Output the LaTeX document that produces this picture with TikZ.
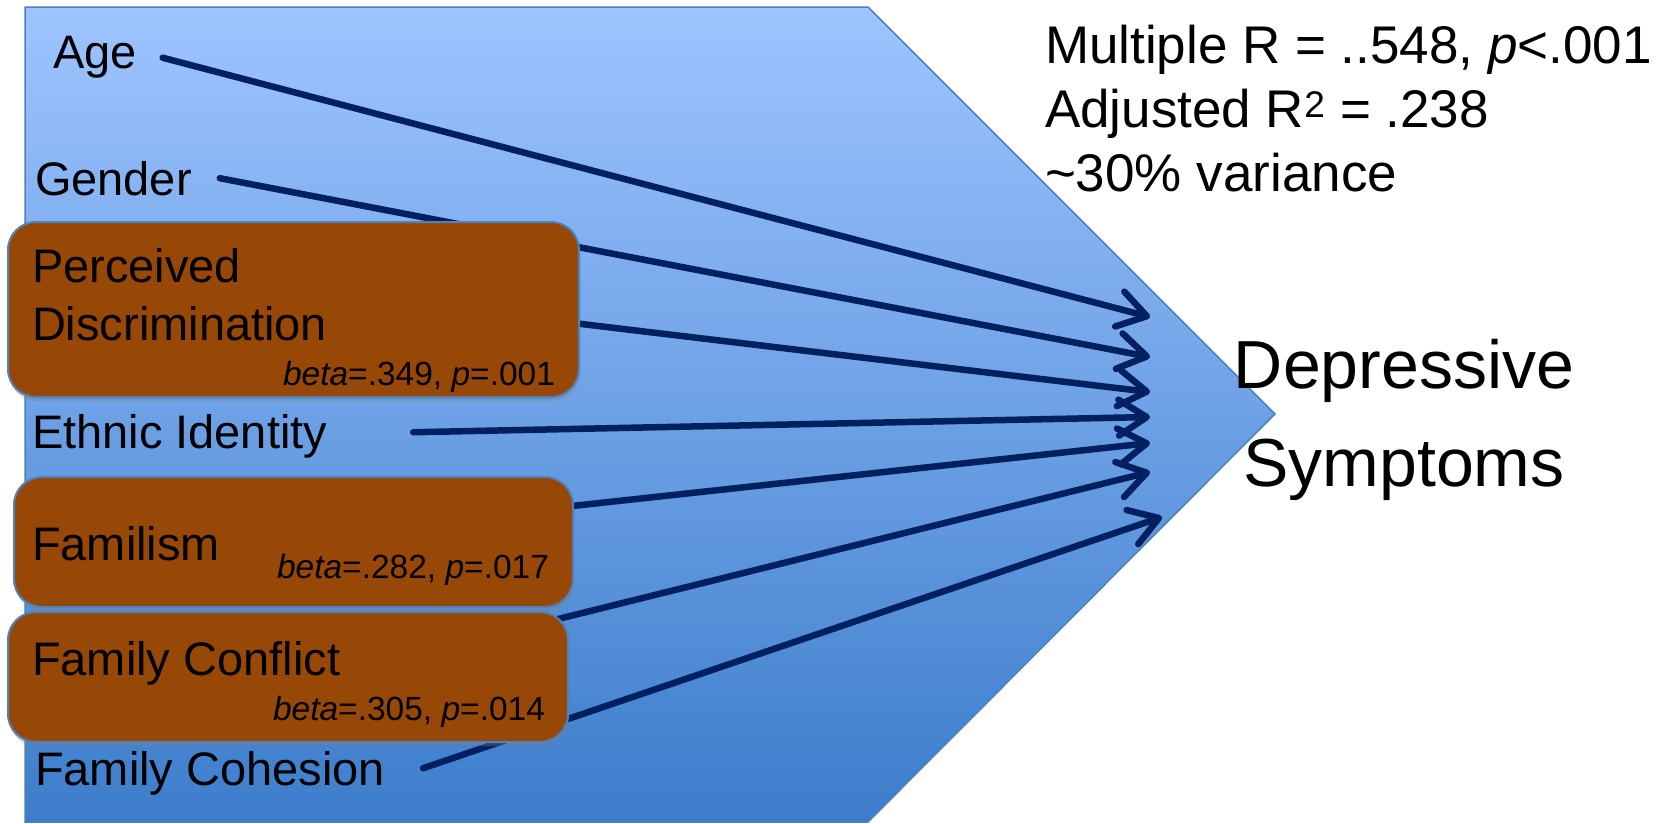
\documentclass[tikz,border=0pt]{standalone}
\usepackage{fontspec}
\setmainfont{Liberation Sans}
\usetikzlibrary{arrows.meta,calc,shadows}
\definecolor{navy}{HTML}{002060}
\definecolor{brownbox}{HTML}{974706}
\definecolor{bluetop}{RGB}{158,196,255}
\definecolor{bluemid}{RGB}{118,163,230}
\definecolor{bluebot}{RGB}{60,125,203}
\definecolor{edgeblue}{RGB}{79,129,189}
\begin{document}
\begin{tikzpicture}[x=1pt,y=-1pt,
  lbl/.style={anchor=base west, inner sep=0pt, outer sep=0pt, font=\fontsize{47}{56}\selectfont},
  betatxt/.style={anchor=base west, inner sep=0pt, outer sep=0pt, font=\fontsize{33.5}{40}\selectfont},
  stat/.style={anchor=base west, inner sep=0pt, outer sep=0pt, font=\fontsize{53}{64}\selectfont},
  dep/.style={anchor=base, inner sep=0pt, outer sep=0pt, font=\fontsize{68}{89}\selectfont},
  box/.style={draw=edgeblue, line width=2pt, fill=brownbox, rounded corners=28pt,
    inner sep=0pt, outer sep=0pt,
    drop shadow={shadow xshift=1pt, shadow yshift=-4pt, opacity=0.35}},
  arr/.style={navy, line width=6.5pt, line cap=round,
    -{Straight Barb[length=28pt, width=36pt, round]}}]
\fill[white] (0,0) rectangle (1666,823);
\useasboundingbox (0,0) rectangle (1666,823);
% pentagon
\shade[top color=bluetop, middle color=bluemid, bottom color=bluebot]
  (25,7) -- (868,7) -- (1275,414) -- (868,822) -- (25,822) -- cycle;
\draw[edgeblue, line width=1.5pt]
  (25,7) -- (868,7) -- (1275,414) -- (868,822) -- (25,822) -- cycle;
% labels outside boxes
\node[lbl] (age) at (53,68) {Age};
\node[lbl] (gender) at (35,195) {Gender};
\node[lbl] (ethnic) at (32,448) {Ethnic Identity};
\node[lbl] (cohesion) at (35,785) {Family Cohesion};
% arrow tips
\coordinate (t1) at (1150,317);
\coordinate (t2) at (1150,357);
\coordinate (t3) at (1150,392);
\coordinate (t4) at (1150,417);
\coordinate (t5) at (1150,443);
\coordinate (t6) at (1150,472);
\coordinate (t7) at (1162,517);
% box positions (needed for arrow starts)
\path (293.5,309.5) coordinate (pdc) (293.5,542) coordinate (fc) (288,677) coordinate (fcc);
% arrows
\draw[arr] ($(age.east)+(26,1)$) -- (t1);
\draw[arr] ($(gender.east)+(28,0)$) -- (t2);
\draw[arr] ($(pdc)+(275.5,13)$) -- (t3);
\draw[arr] ($(ethnic.east)+(86,-3.6)$) -- (t4);
\draw[arr] ($(fc)+(269.5,-35)$) -- (t5);
\draw[arr] ($(fcc)+(252,-53.5)$) -- (t6);
\draw[arr] ($(cohesion.east)+(38,-4.6)$) -- (t7);
% boxes
\node[box, minimum width=571pt, minimum height=175pt] (pdbox) at (pdc) {};
\node[box, minimum width=559pt, minimum height=130pt] (fbox) at (fc) {};
\node[box, minimum width=560pt, minimum height=130pt] (fcbox) at (fcc) {};
% box texts
\node[lbl] (pd1) at (32,282) {Perceived};
\node[lbl] (pd2) at (32,340) {Discrimination};
\node[betatxt] (pdb) at (283,385) {\textit{beta}=.349, \textit{p}=.001};
\node[lbl] (fam) at (32,560) {Familism};
\node[betatxt] (famb) at (277,578) {\textit{beta}=.282, \textit{p}=.017};
\node[lbl] (conf) at (32,675) {Family Conflict};
\node[betatxt] (confb) at (273,720) {\textit{beta}=.305, \textit{p}=.014};
% right texts
\node[stat] (s1) at (1045,63) {Multiple R = ..548, \textit{p}<.001};
\node[stat] (s2) at (1045,127) {Adjusted R\textsuperscript{2} = .238};
\node[stat] (s3) at (1045,191) {\textasciitilde30\% variance};
\node[dep] (dep1) at (1404,388) {Depressive};
\node[dep] (dep2) at (1404,486) {Symptoms};
\end{tikzpicture}
\end{document}
